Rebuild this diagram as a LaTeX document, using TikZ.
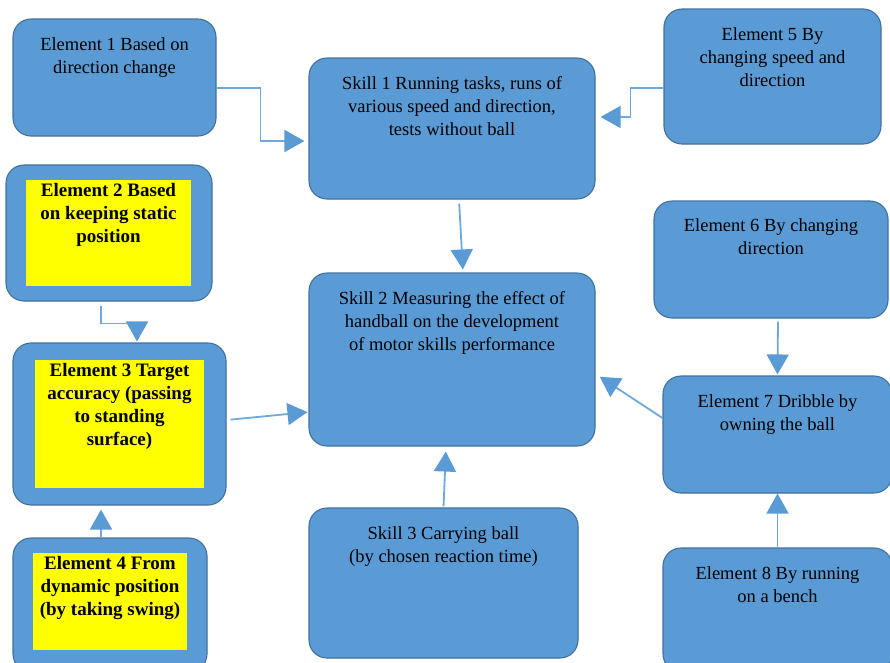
\documentclass[tikz,border=0pt]{standalone}
\usepackage{fontspec}
\setmainfont{Liberation Serif}
\usepackage{xcolor}
\usepackage{tikz}
\usetikzlibrary{arrows.meta,positioning}
\definecolor{boxblue}{HTML}{5B9BD5}
\definecolor{boxedge}{HTML}{41719C}
\definecolor{linkblue}{HTML}{6FA8DC}
\definecolor{hilite}{HTML}{FFFF00}

\begin{document}
\begin{tikzpicture}[x=1pt,y=-1pt,
  box/.style={draw=boxedge,fill=boxblue,rounded corners=18pt,line width=1.1pt,inner sep=0pt},
  mark box/.style={fill=hilite,inner sep=0pt},
  txt/.style={align=center,inner sep=0pt,font=\fontsize{18.5}{23}\selectfont},
  btxt/.style={txt,font=\fontsize{19}{23}\selectfont\bfseries},
  arr/.style={draw=linkblue,line width=1.8pt,shorten <=4pt,shorten >=4pt,
    -{Triangle[length=20pt,width=22pt,fill=boxblue,color=boxblue]}}]
\useasboundingbox (0,0) rectangle (890,662);
\path[clip] (0,0) rectangle (890,662);
% boxes
\node[box,minimum width=203pt,minimum height=117pt] (e1) at (114.5,77.5) {};
\node[box,minimum width=286pt,minimum height=141pt] (skill1) at (452,128.5) {};
\node[box,minimum width=217pt,minimum height=135pt] (e5) at (772.5,76.5) {};
\node[box,minimum width=206pt,minimum height=136pt] (e2) at (109,233) {};
\node[box,minimum width=213pt,minimum height=162pt] (e3) at (119.5,424) {};
\node[box,minimum width=194pt,minimum height=134pt] (e4) at (110,605) {};
\node[box,minimum width=286pt,minimum height=173pt] (skill2) at (452,359.5) {};
\node[box,minimum width=269pt,minimum height=150pt] (skill3) at (443.5,583) {};
\node[box,minimum width=234pt,minimum height=117pt] (e6) at (771,259.5) {};
\node[box,minimum width=229pt,minimum height=117pt] (e7) at (777.5,434.5) {};
\node[box,minimum width=229pt,minimum height=124pt] (e8) at (777.5,610) {};
% yellow marks
\node[mark box,minimum width=165pt,minimum height=106pt] (m2) at (108.5,233) {};
\node[mark box,minimum width=169pt,minimum height=128pt] (m3) at (119.5,424) {};
\node[mark box,minimum width=154pt,minimum height=97pt] (m4) at (110,601.5) {};
% texts
\node[txt,below=19pt of e1.north] {Element 1 Based on\\direction change};
\node[txt,below=19pt of skill1.north] {Skill 1 Running tasks, runs of\\various speed and direction,\\tests without ball};
\node[txt,below=19pt of e5.north] {Element 5 By\\changing speed and\\direction};
\node[btxt,below=3pt of m2.north] {Element 2 Based\\on keeping static\\position};
\node[btxt,below=3pt of m3.north] {Element 3 Target\\accuracy (passing\\to standing\\surface)};
\node[btxt,below=3pt of m4.north] {Element 4 From\\dynamic position\\(by taking swing)};
\node[txt,below=19pt of skill2.north] {Skill 2 Measuring the effect of\\handball on the development\\of motor skills performance};
\node[txt,below=19pt of skill3.north] {Skill 3 Carrying ball\\(by chosen reaction time)};
\node[txt,below=18pt of e6.north] {Element 6 By changing\\direction};
\node[txt,below=19pt of e7.north] {Element 7 Dribble by\\owning the ball};
\node[txt,below=19pt of e8.north] {Element 8 By running\\on a bench};
% links
\draw[arr,shorten <=0pt] ([yshift=-10.5pt]e1.east) -- ++(44,0) |- ([yshift=-12.5pt]skill1.west);
\draw[arr,shorten <=0pt,shorten >=5pt] ([yshift=-11.5pt]e5.west) -- ++(-33,0) |- ([yshift=11.5pt]skill1.east);
\draw[arr,shorten >=3pt] ([xshift=7pt]skill1.south) -- ([xshift=11pt]skill2.north);
\draw[arr,shorten >=1pt] ([xshift=-8pt]e2.south) -- ++(0,22) -| ([xshift=17.5pt]e3.north);
\draw[arr,shorten >=1pt] ([yshift=4pt]e3.east) -- ([yshift=-52.5pt]skill2.west);
\draw[arr,shorten <=0pt] ([xshift=-9pt]e4.north) -- ([xshift=-18.5pt]e3.south);
\draw[arr,shorten <=1pt,shorten >=5pt] (skill3.north) -- ([xshift=-6pt]skill2.south);
\draw[arr,shorten <=3pt,shorten >=1pt] ([xshift=7pt]e6.south) -- (e7.north);
\draw[arr,shorten <=0pt,shorten >=5pt] ([yshift=16.5pt]e7.west) -- ([yshift=-14.5pt]skill2.east);
\draw[arr,shorten <=0pt,shorten >=0pt] (e8.north) -- (e7.south);
\end{tikzpicture}
\end{document}
